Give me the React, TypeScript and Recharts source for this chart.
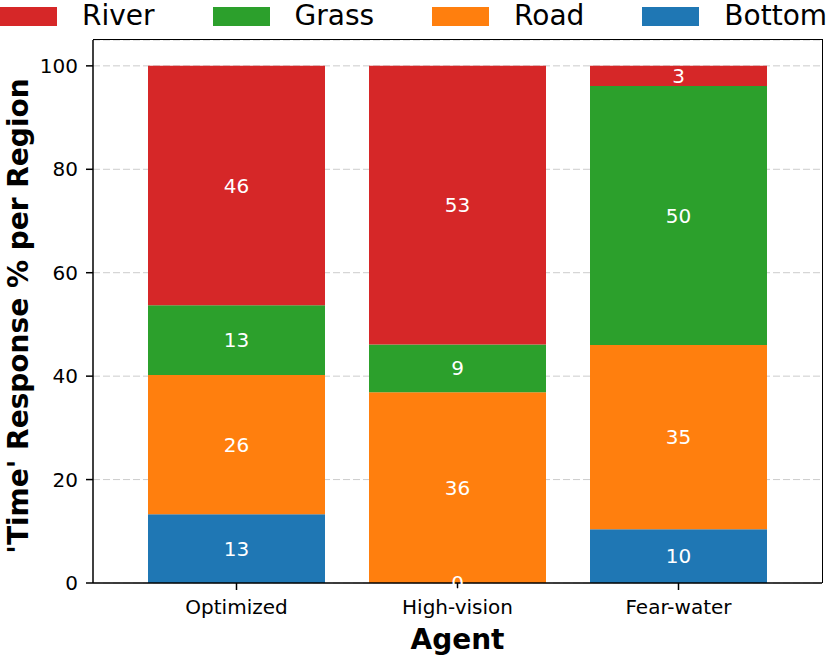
import React from 'react';
import { BarChart, Bar, XAxis, YAxis, CartesianGrid, LabelList, Label } from 'recharts';

// values (percent of time per region)
const agents = ['Optimized', 'High-vision', 'Fear-water'];
const bottomPct = [13.3, 0, 10.4];
const roadPct = [26.9, 36.9, 35.6];
const grassPct = [13.5, 9.2, 50.1];
const riverPct = [46.3, 53.9, 3.9];
const yTicks = [0, 20, 40, 60, 80, 100];

const FONT = '"DejaVu Sans", sans-serif';

// stacking order, bottom to top
const REGIONS = [
  { key: 'Bottom', values: bottomPct, color: '#1f77b4' },
  { key: 'Road', values: roadPct, color: '#ff7f0e' },
  { key: 'Grass', values: grassPct, color: '#2ca02c' },
  { key: 'River', values: riverPct, color: '#d62728' },
];

// legend order as in the figure
const LEGEND_ORDER = ['River', 'Grass', 'Road', 'Bottom'];

const data = agents.map((name, i) => {
  const row: { name: string; [k: string]: number | string } = { name };
  REGIONS.forEach(r => {
    row[r.key] = r.values[i];
  });
  return row;
});

const TopLegend = () => (
  <div
    style={{
      position: 'absolute',
      left: 0,
      top: 2,
      display: 'flex',
      alignItems: 'center',
      fontFamily: FONT,
      fontSize: 28,
      lineHeight: '28px',
      whiteSpace: 'nowrap',
    }}
  >
    {LEGEND_ORDER.map(k => {
      const r = REGIONS.find(x => x.key === k)!;
      return (
        <div key={k} style={{ display: 'flex', alignItems: 'center', marginRight: 58 }}>
          <span style={{ display: 'inline-block', width: 57, height: 19, background: r.color, marginRight: 25 }} />
          <span style={{ color: '#000' }}>{k}</span>
        </div>
      );
    })}
  </div>
);

const YTitle = () => (
  <text
    x={18}
    y={316}
    textAnchor="middle"
    dominantBaseline="central"
    transform="rotate(-90, 18, 316)"
    style={{ fontFamily: FONT, fontSize: 28, fontWeight: 'bold', fill: '#000' }}
  >
    'Time' Response % per Region
  </text>
);

// white, truncated value in the middle of each segment
const SegmentLabel = (props: any) => {
  const { x, y, width, height, value } = props;
  if (value == null) return null;
  return (
    <text
      x={Number(x) + Number(width) / 2}
      y={Number(y) + Number(height) / 2}
      textAnchor="middle"
      dominantBaseline="central"
      style={{ fill: '#fff', fontSize: 20, fontFamily: FONT }}
    >
      {String(Math.floor(Number(value)))}
    </text>
  );
};

export default function App() {
  return (
    <div style={{ position: 'absolute', left: 0, top: 0, width: 830, height: 655, background: '#fff' }}>
      <BarChart
        width={830}
        height={655}
        data={data}
        margin={{ top: 40, right: 8, left: 0, bottom: 0 }}
        style={{ fontFamily: FONT }}
      >
        <CartesianGrid horizontal vertical={false} stroke="#cccccc" strokeDasharray="7 3" />
        <XAxis
          dataKey="name"
          height={72}
          padding={{ left: 33, right: 33 }}
          tickSize={7}
          tickMargin={10}
          tick={{ fontSize: 20, fill: '#000' }}
          axisLine={{ stroke: '#000', strokeWidth: 1.5 }}
          tickLine={{ stroke: '#000', strokeWidth: 1.5 }}
        >
          <Label
            value="Agent"
            position="insideBottom"
            offset={6}
            style={{ fontSize: 28, fontWeight: 'bold', fill: '#000', fontFamily: FONT }}
          />
        </XAxis>
        <YAxis
          width={93}
          domain={[0, 105]}
          ticks={yTicks}
          tickSize={7}
          tickMargin={8}
          tick={{ fontSize: 20, fill: '#000' }}
          axisLine={{ stroke: '#000', strokeWidth: 1.5 }}
          tickLine={{ stroke: '#000', strokeWidth: 1.5 }}
          label={<YTitle />}
        />
        {REGIONS.map(r => (
          <Bar
            key={r.key}
            dataKey={r.key}
            stackId="a"
            fill={r.color}
            barSize={177}
            minPointSize={r.key === 'Bottom' ? 1 : 0}
            isAnimationActive={false}
          >
            <LabelList dataKey={r.key} content={<SegmentLabel />} />
          </Bar>
        ))}
      </BarChart>
      {/* top and right spines of the axes frame */}
      <div
        style={{
          position: 'absolute',
          left: 93,
          top: 39.25,
          width: 728.75,
          height: 543,
          borderTop: '1.5px solid #000',
          borderRight: '1.5px solid #000',
          pointerEvents: 'none',
        }}
      />
      <TopLegend />
    </div>
  );
}
